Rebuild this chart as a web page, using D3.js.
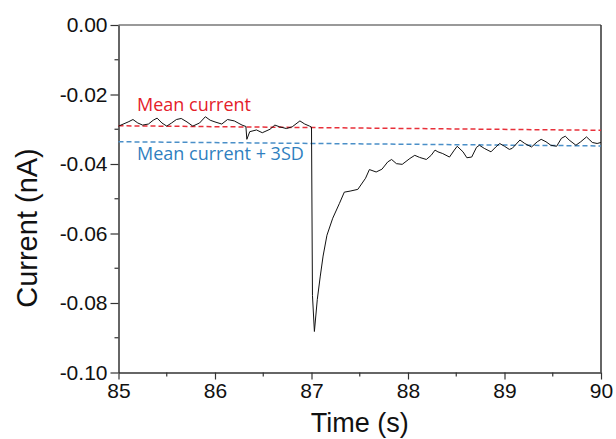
<!DOCTYPE html>
<html>
<head>
<meta charset="utf-8">
<script src="https://cdn.jsdelivr.net/npm/d3@7"></script>
<style>
  html, body { margin: 0; padding: 0; background: #fff; }
  svg { display: block; }
</style>
</head>
<body>
<svg id="chart" width="616" height="439"></svg>
<script>
// Recorded current trace: time (s) and current (nA)
const time = [
  85.00, 85.10, 85.15, 85.20, 85.25, 85.31, 85.36, 85.40, 85.45, 85.50,
  85.55, 85.60, 85.65, 85.71, 85.77, 85.84, 85.90, 85.95, 86.00, 86.07,
  86.13, 86.20, 86.28, 86.32, 86.33, 86.36, 86.43, 86.49, 86.57, 86.62,
  86.67, 86.74, 86.80, 86.88, 86.93, 86.98, 87.00, 87.01, 87.03, 87.06,
  87.09, 87.12, 87.16, 87.22, 87.29, 87.34, 87.40, 87.48, 87.56, 87.60, 87.67,
  87.73, 87.79, 87.83, 87.88, 87.94, 88.02, 88.07, 88.12, 88.19, 88.24,
  88.28, 88.31, 88.36, 88.43, 88.48, 88.51, 88.57, 88.61, 88.66, 88.71,
  88.74, 88.79, 88.86, 88.91, 88.95, 89.00, 89.05, 89.08, 89.16, 89.21,
  89.28, 89.34, 89.38, 89.43, 89.48, 89.54, 89.59, 89.63, 89.67, 89.74,
  89.79, 89.85, 89.91, 89.96, 90.00
];
const current = [
  -0.0291, -0.0279, -0.0272, -0.0282, -0.0288, -0.0285, -0.0274, -0.0268, -0.0282, -0.0291,
  -0.0282, -0.0272, -0.0269, -0.0279, -0.0291, -0.0282, -0.0264, -0.0274, -0.0279, -0.0285,
  -0.0272, -0.0276, -0.0288, -0.0292, -0.0329, -0.0307, -0.0302, -0.0310, -0.0300, -0.0288,
  -0.0293, -0.0298, -0.0293, -0.0276, -0.0285, -0.0291, -0.0294, -0.0778, -0.0882, -0.0790,
  -0.0725, -0.0665, -0.0605, -0.0556, -0.0513, -0.0481, -0.0478, -0.0473, -0.0441, -0.0416, -0.0423,
  -0.0415, -0.0394, -0.0387, -0.0399, -0.0401, -0.0384, -0.0375, -0.0381, -0.0387, -0.0375,
  -0.0360, -0.0365, -0.0370, -0.0380, -0.0360, -0.0349, -0.0365, -0.0382, -0.0380, -0.0352,
  -0.0346, -0.0355, -0.0365, -0.0351, -0.0341, -0.0349, -0.0358, -0.0355, -0.0331, -0.0341,
  -0.0351, -0.0336, -0.0329, -0.0336, -0.0346, -0.0349, -0.0326, -0.0320, -0.0331, -0.0346,
  -0.0336, -0.0322, -0.0338, -0.0341, -0.0338
];

// Reference levels (start and end of the window)
const meanCurrent = [-0.0290, -0.0303];
const meanPlus3SD = [-0.0336, -0.0348];

const xTicks = [85, 86, 87, 88, 89, 90];
const yTicks = [0.00, -0.02, -0.04, -0.06, -0.08, -0.10];
const xDomain = [85, 90];
const yDomain = [-0.10, 0.00];

const svg = d3.select("#chart");
const margin = { left: 118.5, right: 15, top: 25, bottom: 66.5 };
const W = 616, H = 439;

const x = d3.scaleLinear().domain(xDomain).range([margin.left, W - margin.right]);
const y = d3.scaleLinear().domain(yDomain).range([H - margin.bottom, margin.top]);

const axisColor = "#333";
const tickFont = "'Liberation Sans', Arial, sans-serif";

// Frame: top and right edges
svg.append("line")
  .attr("x1", x(85)).attr("x2", x(90)).attr("y1", y(0)).attr("y2", y(0))
  .attr("stroke", "#777").attr("stroke-width", 1.5);
svg.append("line")
  .attr("x1", x(90)).attr("x2", x(90)).attr("y1", y(0)).attr("y2", y(-0.10))
  .attr("stroke", axisColor).attr("stroke-width", 1.5);

// Minor ticks
const xMinor = d3.range(85.5, 90, 1);
const yMinor = d3.range(-0.09, 0, 0.02);
svg.append("g").selectAll("line").data(xMinor).join("line")
  .attr("x1", d => x(d)).attr("x2", d => x(d))
  .attr("y1", y(-0.10)).attr("y2", y(-0.10) + 4)
  .attr("stroke", axisColor).attr("stroke-width", 1.2);
svg.append("g").selectAll("line").data(yMinor).join("line")
  .attr("x1", x(85) - 4).attr("x2", x(85))
  .attr("y1", d => y(d)).attr("y2", d => y(d))
  .attr("stroke", axisColor).attr("stroke-width", 1.2);

// Bottom axis
const gx = svg.append("g")
  .attr("transform", `translate(0,${y(-0.10)})`)
  .call(d3.axisBottom(x).tickValues(xTicks).tickFormat(d3.format("d"))
    .tickSize(7).tickSizeOuter(0).tickPadding(4));
gx.select(".domain").attr("stroke", axisColor).attr("stroke-width", 1.5);
gx.selectAll(".tick line").attr("stroke", axisColor).attr("stroke-width", 1.2);
gx.selectAll("text").attr("fill", "#111").style("font-family", tickFont).style("font-size", "21px");

// Left axis
const gy = svg.append("g")
  .attr("transform", `translate(${x(85)},0)`)
  .call(d3.axisLeft(y).tickValues(yTicks).tickFormat(d3.format(".2f"))
    .tickSize(8).tickSizeOuter(0).tickPadding(3));
gy.select(".domain").attr("stroke", axisColor).attr("stroke-width", 1.5);
gy.selectAll(".tick line").attr("stroke", axisColor).attr("stroke-width", 1.2);
gy.selectAll("text").attr("fill", "#111").style("font-family", tickFont).style("font-size", "21px")
  .text(d => d === 0 ? "0.00" : d3.format(".2f")(d).replace("−", "-"));

// Axis titles
svg.append("text")
  .attr("x", (x(85) + x(90)) / 2).attr("y", 432)
  .attr("text-anchor", "middle")
  .style("font-family", tickFont).style("font-size", "27px").attr("fill", "#111")
  .text("Time (s)");
svg.append("text")
  .attr("transform", `translate(37,228) rotate(-90)`)
  .attr("text-anchor", "middle")
  .style("font-family", tickFont).style("font-size", "29px").attr("fill", "#111")
  .text("Current (nA)");

// Dashed reference levels
svg.append("line")
  .attr("x1", x(85)).attr("x2", x(90))
  .attr("y1", y(meanCurrent[0])).attr("y2", y(meanCurrent[1]))
  .attr("stroke", "#e8303a").attr("stroke-width", 1.5).attr("stroke-dasharray", "5,3");
svg.append("line")
  .attr("x1", x(85)).attr("x2", x(90))
  .attr("y1", y(meanPlus3SD[0])).attr("y2", y(meanPlus3SD[1]))
  .attr("stroke", "#4a8fc8").attr("stroke-width", 1.5).attr("stroke-dasharray", "5,3");

// Current trace
const pts = time.map((t, i) => [t, current[i]]);
svg.append("path")
  .datum(pts)
  .attr("fill", "none").attr("stroke", "#111").attr("stroke-width", 1)
  .attr("stroke-linejoin", "round")
  .attr("d", d3.line().x(d => x(d[0])).y(d => y(d[1])));

// Annotations
const noteFont = "'Open Sans', 'Noto Sans', sans-serif";
svg.append("text")
  .attr("x", 137).attr("y", 111)
  .style("font-family", noteFont).style("font-size", "18px").attr("fill", "#e4202a")
  .text("Mean current");
svg.append("text")
  .attr("x", 137).attr("y", 160)
  .style("font-family", noteFont).style("font-size", "18px").attr("fill", "#2f7fc0")
  .text("Mean current + 3SD");
</script>
</body>
</html>
